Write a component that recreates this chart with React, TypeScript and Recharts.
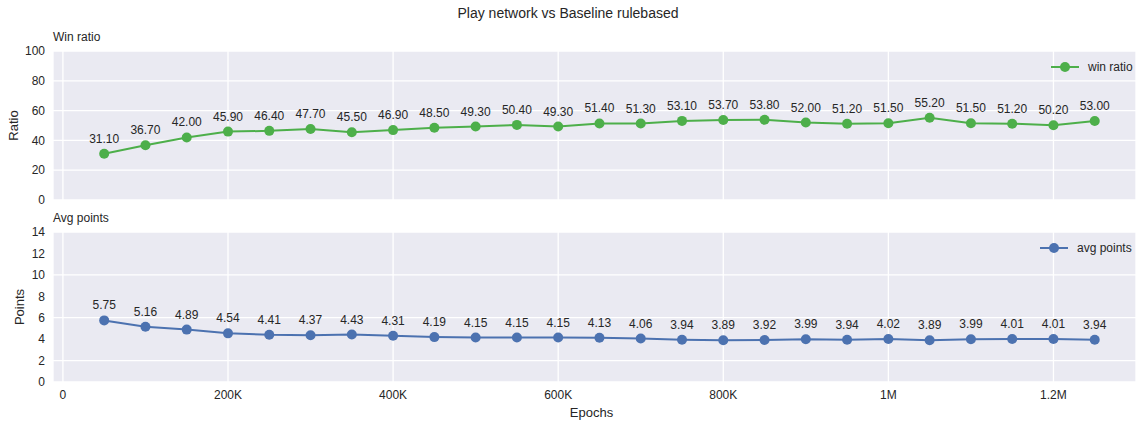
import {
  CartesianGrid,
  LabelList,
  Legend,
  Line,
  LineChart,
  XAxis,
  YAxis
} from "recharts"

// epochs at which the network was evaluated
const epochs = [
  50000, 100000, 150000, 200000, 250000, 300000, 350000, 400000, 450000,
  500000, 550000, 600000, 650000, 700000, 750000, 800000, 850000, 900000,
  950000, 1000000, 1050000, 1100000, 1150000, 1200000, 1250000
]
const winRatio = [
  31.1, 36.7, 42.0, 45.9, 46.4, 47.7, 45.5, 46.9, 48.5, 49.3, 50.4, 49.3,
  51.4, 51.3, 53.1, 53.7, 53.8, 52.0, 51.2, 51.5, 55.2, 51.5, 51.2, 50.2, 53.0
]
const avgPoints = [
  5.75, 5.16, 4.89, 4.54, 4.41, 4.37, 4.43, 4.31, 4.19, 4.15, 4.15, 4.15,
  4.13, 4.06, 3.94, 3.89, 3.92, 3.99, 3.94, 4.02, 3.89, 3.99, 4.01, 4.01, 3.94
]
const xTicks = [0, 200000, 400000, 600000, 800000, 1000000, 1200000]
const xTickLabels = ["0", "200K", "400K", "600K", "800K", "1M", "1.2M"]
const ratioTicks = [0, 20, 40, 60, 80, 100]
const pointTicks = [0, 2, 4, 6, 8, 10, 12, 14]

const data = epochs.map((epoch, i) => ({
  epoch,
  win: winRatio[i],
  avg: avgPoints[i]
}))

const GREEN = "#4daf4a"
const BLUE = "#4c72b0"
const TEXT = "#262626"
const BG = "#eaeaf2"
const FONT = '"Liberation Sans", Arial, sans-serif'
const W = 1136
const X_DOMAIN: [number, number] = [-12000, 1300000]
const tick = { fontSize: 12, fill: TEXT }

function LegendItem({ color, label }: { color: string; label: string }) {
  return (
    <div style={{ display: "flex", alignItems: "center", fontSize: 12, color: TEXT }}>
      <svg width={28} height={12} style={{ marginRight: 9 }}>
        <line x1={0} y1={6} x2={28} y2={6} stroke={color} strokeWidth={2} />
        <circle cx={14} cy={6} r={5} fill={color} />
      </svg>
      {label}
    </div>
  )
}

function yLabel(text: string, x: number) {
  return (props: any) => {
    const vb = props.viewBox
    const cy = vb.y + vb.height / 2
    return (
      <text
        x={x}
        y={cy}
        transform={`rotate(-90 ${x} ${cy})`}
        textAnchor="middle"
        dominantBaseline="central"
        fontSize={13}
        fill={TEXT}
      >
        {text}
      </text>
    )
  }
}

export default function App() {
  return (
    <div
      style={{
        position: "absolute",
        left: 0,
        top: 0,
        width: W,
        height: 423,
        background: "#fff",
        fontFamily: FONT,
        overflow: "hidden"
      }}
    >
      <div
        style={{
          position: "absolute",
          top: 5,
          width: W,
          textAlign: "center",
          fontSize: 14,
          color: TEXT
        }}
      >
        Play network vs Baseline rulebased
      </div>
      <div style={{ position: "absolute", top: 30, left: 53, fontSize: 12, color: TEXT }}>
        Win ratio
      </div>
      <div style={{ position: "absolute", top: 211, left: 53, fontSize: 12, color: TEXT }}>
        Avg points
      </div>

      <div style={{ position: "absolute", top: 0, left: 0 }}>
        <LineChart
          width={W}
          height={210}
          data={data}
          margin={{ top: 51, right: 0, bottom: 0, left: 0 }}
          style={{ fontFamily: FONT }}
        >
          <CartesianGrid fill={BG} stroke="#fff" strokeWidth={1.3} />
          <XAxis
            type="number"
            dataKey="epoch"
            domain={X_DOMAIN}
            ticks={xTicks}
            allowDataOverflow
            tick={{ fontSize: 0 }}
            tickFormatter={() => ""}
            axisLine={false}
            tickLine={false}
            height={10}
          />
          <YAxis
            domain={[0, 100]}
            ticks={ratioTicks}
            width={53}
            axisLine={false}
            tickLine={false}
            tick={tick}
            label={{ content: yLabel("Ratio", 13) }}
          />
          <Legend
            layout="vertical"
            align="center"
            verticalAlign="middle"
            wrapperStyle={{ top: 60, left: 1051, width: 90 }}
            content={() => <LegendItem color={GREEN} label="win ratio" />}
          />
          <Line
            dataKey="win"
            name="win ratio"
            stroke={GREEN}
            strokeWidth={2}
            dot={{ r: 5, fill: GREEN, stroke: GREEN, strokeWidth: 0 }}
            isAnimationActive={false}
          >
            <LabelList
              dataKey="win"
              position="top"
              offset={11}
              fontSize={12}
              fill={TEXT}
              formatter={(v: any) => Number(v).toFixed(2)}
            />
          </Line>
        </LineChart>
      </div>

      <div style={{ position: "absolute", top: 200, left: 0 }}>
        <LineChart
          width={W}
          height={223}
          data={data}
          margin={{ top: 32, right: 0, bottom: 0, left: 0 }}
          style={{ fontFamily: FONT }}
        >
          <CartesianGrid fill={BG} stroke="#fff" strokeWidth={1.3} />
          <XAxis
            type="number"
            dataKey="epoch"
            domain={X_DOMAIN}
            ticks={xTicks}
            allowDataOverflow
            axisLine={false}
            tickLine={false}
            tick={tick}
            height={41}
            tickFormatter={(v: number) => xTickLabels[xTicks.indexOf(v)] ?? ""}
            label={{
              content: (props: any) => {
                const vb = props.viewBox
                return (
                  <text
                    x={vb.x + vb.width / 2 - 3}
                    y={212}
                    textAnchor="middle"
                    dominantBaseline="central"
                    fontSize={13}
                    fill={TEXT}
                  >
                    Epochs
                  </text>
                )
              }
            }}
          />
          <YAxis
            domain={[0, 14]}
            ticks={pointTicks}
            width={53}
            axisLine={false}
            tickLine={false}
            tick={tick}
            label={{ content: yLabel("Points", 19) }}
          />
          <Legend
            layout="vertical"
            align="center"
            verticalAlign="middle"
            wrapperStyle={{ top: 41, left: 1040, width: 100 }}
            content={() => <LegendItem color={BLUE} label="avg points" />}
          />
          <Line
            dataKey="avg"
            name="avg points"
            stroke={BLUE}
            strokeWidth={2}
            dot={{ r: 5, fill: BLUE, stroke: BLUE, strokeWidth: 0 }}
            isAnimationActive={false}
          >
            <LabelList
              dataKey="avg"
              position="top"
              offset={11}
              fontSize={12}
              fill={TEXT}
              formatter={(v: any) => Number(v).toFixed(2)}
            />
          </Line>
        </LineChart>
      </div>
    </div>
  )
}
